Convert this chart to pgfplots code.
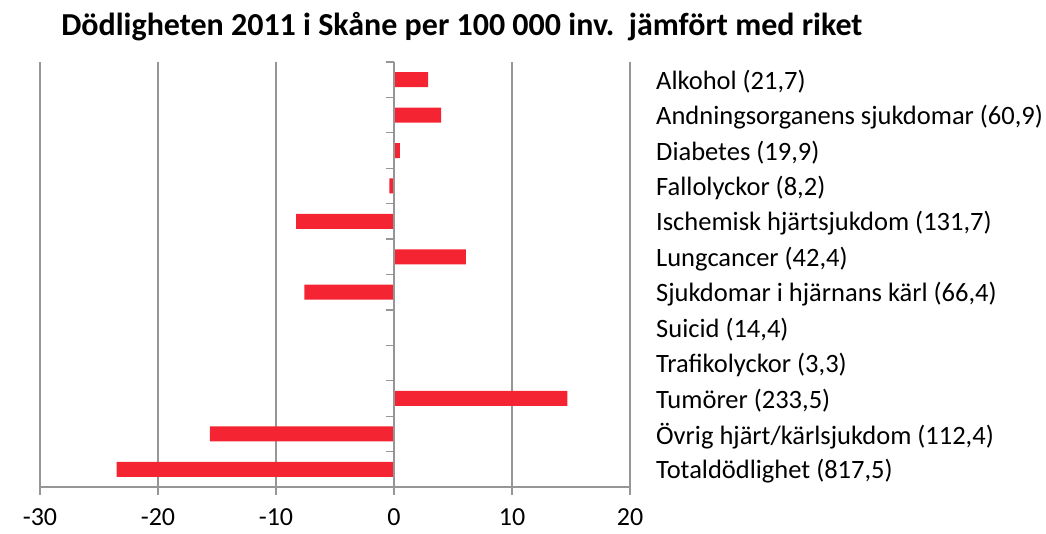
\documentclass[border=0pt]{standalone}
\usepackage{fontspec}
\setmainfont{Carlito}
\usepackage{pgfplots}
\pgfplotsset{compat=1.18}
\definecolor{barred}{RGB}{244,36,50}
\definecolor{gridgray}{RGB}{150,150,150}

\begin{document}
\begin{tikzpicture}
\path[use as bounding box] (-40pt,-46pt) rectangle (1006pt,487pt);
\begin{axis}[
    at={(0,0)}, anchor=south west,
    scale only axis,
    width=590pt, height=425pt,
    xmin=-30, xmax=20,
    ymin=0.5, ymax=12.5,
    y dir=reverse,
    xtick={-30,-20,-10,0,10,20},
    xticklabels={-30,-20,-10,0,10,20},
    ytick={1,...,12},
    yticklabels={{Alkohol (21,7)}, {Andningsorganens sjukdomar (60,9)}, {Diabetes (19,9)},
        {Fallolyckor (8,2)}, {Ischemisk hjärtsjukdom (131,7)}, {Lungcancer (42,4)},
        {Sjukdomar i hjärnans kärl (66,4)}, {Suicid (14,4)}, {Trafikolyckor (3,3)},
        {Tumörer (233,5)}, {Övrig hjärt/kärlsjukdom (112,4)}, {Totaldödlighet (817,5)}},
    axis x line*=bottom,
    axis y line*=right,
    y axis line style={draw=none},
    ytick style={draw=none},
    x axis line style={gridgray, line width=1.3pt},
    xtick style={gridgray, line width=1.3pt},
    tick align=outside,
    major tick length=8pt,
    xmajorgrids,
    grid style={gridgray, line width=1.3pt},
    yticklabel pos=right,
    yticklabel style={anchor=west, inner sep=0pt, xshift=18pt, yshift=-2pt, font=\fontsize{26.5}{31}\selectfont},
    xticklabel style={font=\fontsize{26}{31}\selectfont, yshift=-10pt},
    xbar, bar width=15pt, bar shift=0pt,
    clip=false,
]
\addplot[draw=none, fill=barred] coordinates {
    (2.9,1) (4.0,2) (0.5,3) (-0.4,4) (-8.3,5) (6.1,6)
    (-7.6,7) (0,8) (0,9) (14.7,10) (-15.6,11) (-23.5,12)
};
\draw[gridgray, line width=1.3pt] (axis cs:0,0.5) -- (axis cs:0,12.5);
\pgfplotsinvokeforeach{0,...,12}{
    \draw[gridgray, line width=1.3pt] (axis cs:0,#1+0.5) -- ++(-8pt,0pt);
}
\node[font=\bfseries\fontsize{32}{38}\selectfont] at (rel axis cs:0.715,1) [yshift=35pt] {Dödligheten 2011 i Skåne per 100 000 inv.\ \ jämfört med riket};
\end{axis}
\end{tikzpicture}
\end{document}
